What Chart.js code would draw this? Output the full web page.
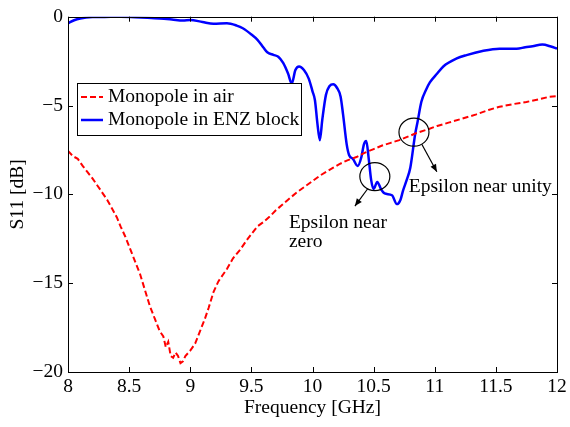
<!DOCTYPE html>
<html>
<head>
<meta charset="utf-8">
<script src="https://cdn.jsdelivr.net/npm/chart.js@4.4.0/dist/chart.umd.min.js"></script>
<style>
  html, body { margin: 0; padding: 0; background: #fff; }
  #wrap { width: 570px; height: 427px; }
</style>
</head>
<body>
<div id="wrap"><canvas id="myChart" width="570" height="427"></canvas></div>
<script>
// S11 (GHz, dB)
var airFreq = [8.00, 8.04, 8.08, 8.12, 8.16, 8.20, 8.24, 8.28, 8.32, 8.36, 8.40, 8.43, 8.47, 8.51, 8.55, 8.59,
    8.63, 8.67, 8.71, 8.75, 8.78, 8.80, 8.82, 8.84, 8.86, 8.88, 8.90, 8.92, 8.94, 8.96, 9.00, 9.04, 9.08, 9.12,
    9.15, 9.19, 9.23, 9.27, 9.30, 9.35, 9.41, 9.46, 9.51, 9.55, 9.60, 9.65, 9.70, 9.75, 9.80, 9.87, 9.93, 10.00,
    10.06, 10.12, 10.17, 10.22, 10.28, 10.36, 10.43, 10.50, 10.57, 10.64, 10.71, 10.78, 10.85, 10.94, 11.02,
    11.12, 11.22, 11.34, 11.44, 11.53, 11.64, 11.75, 11.87, 11.94, 12.00];
var airS11 = [-7.55, -7.85, -8.0, -8.4, -8.75, -9.1, -9.5, -9.9, -10.3, -10.8, -11.3, -11.8, -12.4, -13.1, -13.8, -14.5,
    -15.4, -16.3, -17.0, -17.7, -18.0, -18.6, -18.3, -19.1, -19.2, -18.9, -19.1, -19.5, -19.4, -19.1, -18.8, -18.4, -17.7, -17.0,
    -16.4, -15.5, -14.9, -14.5, -14.2, -13.6, -13.1, -12.6, -12.15, -11.8, -11.55, -11.25, -10.9, -10.6, -10.3, -9.9, -9.6, -9.25,
    -8.95, -8.7, -8.5, -8.3, -8.1, -7.9, -7.65, -7.45, -7.25, -7.1, -6.95, -6.75, -6.55, -6.35, -6.15,
    -5.95, -5.75, -5.5, -5.25, -5.07, -4.92, -4.8, -4.62, -4.5, -4.47];

var enzFreq = [8.00, 8.05, 8.10, 8.20, 8.30, 8.43, 8.55, 8.65, 8.75, 8.85, 8.94, 9.00, 9.10, 9.19, 9.30, 9.38,
    9.43, 9.50, 9.55, 9.60, 9.63, 9.68, 9.72, 9.76, 9.80, 9.83, 9.86, 9.89, 9.93, 9.97, 10.00, 10.02, 10.04,
    10.06, 10.08, 10.11, 10.14, 10.17, 10.20, 10.23, 10.25, 10.28, 10.30, 10.33, 10.37, 10.40, 10.42, 10.44,
    10.46, 10.48, 10.50, 10.53, 10.56, 10.59, 10.65, 10.69, 10.72, 10.74, 10.77, 10.80, 10.84, 10.86, 10.89,
    10.93, 10.96, 11.02, 11.07, 11.18, 11.26, 11.39, 11.53, 11.60, 11.67, 11.74, 11.80, 11.88, 11.95, 12.00];
var enzS11 = [-0.37, -0.2, -0.1, -0.02, -0.01, 0, -0.03, -0.06, -0.1, -0.16, -0.22, -0.18, -0.3, -0.4, -0.37, -0.5,
    -0.65, -1.0, -1.3, -1.75, -2.0, -2.15, -2.25, -2.6, -3.2, -3.77, -3.0, -2.8, -3.0, -3.5, -4.2, -4.7, -6.0,
    -6.95, -5.8, -4.4, -3.9, -3.8, -4.0, -4.5, -5.5, -7.2, -7.8, -8.0, -8.4, -7.9, -7.2, -7.0,
    -8.0, -9.2, -9.7, -9.3, -9.7, -9.95, -10.05, -10.55, -10.3, -9.8, -9.2, -8.5, -6.6, -5.9, -4.8,
    -4.1, -3.7, -3.2, -2.8, -2.35, -2.16, -1.93, -1.8, -1.8, -1.8, -1.72, -1.66, -1.57, -1.68, -1.8];

var xTicks = [8, 8.5, 9, 9.5, 10, 10.5, 11, 11.5, 12];
var yTicks = [0, -5, -10, -15, -20];

function toPoints(xs, ys) {
    return xs.map(function (x, i) { return { x: x, y: ys[i] }; });
}

var serif = "'Liberation Serif', 'Times New Roman', serif";
var fontSize = 19.5;

// callouts, anchored in data units
var circles = [
    { x: 10.51, y: -9.0, rx: 15, ry: 14 },
    { x: 10.83, y: -6.5, rx: 15, ry: 14 }
];
var arrows = [
    { x1: 10.453, y1: -9.67, x2: 10.347, y2: -10.66 },
    { x1: 10.894, y1: -7.18, x2: 11.017, y2: -8.73 }
];
var notes = [
    { x: 9.807, y: -11.6, text: 'Epsilon near' },
    { x: 9.807, y: -12.7, text: 'zero' },
    { x: 10.788, y: -9.56, text: 'Epsilon near unity' }
];

var framePlugin = {
    id: 'frame',
    afterDatasetsDraw: function (chart) {
        var c = chart.ctx, a = chart.chartArea;
        var xs = chart.scales.x, ys = chart.scales.y;
        c.save();
        c.strokeStyle = '#000';
        c.lineWidth = 1;
        c.strokeRect(Math.round(a.left) + 0.5, Math.round(a.top) + 0.5, Math.round(a.right - a.left), Math.round(a.bottom - a.top));
        c.beginPath();
        xTicks.forEach(function (v) {
            var px = Math.round(xs.getPixelForValue(v)) + 0.5;
            c.moveTo(px, a.bottom); c.lineTo(px, a.bottom - 5);
            c.moveTo(px, a.top); c.lineTo(px, a.top + 5);
        });
        yTicks.forEach(function (v) {
            var py = Math.round(ys.getPixelForValue(v)) + 0.5;
            c.moveTo(a.left, py); c.lineTo(a.left + 5, py);
            c.moveTo(a.right, py); c.lineTo(a.right - 5, py);
        });
        c.stroke();

        // circles and arrows
        c.lineWidth = 1.2;
        circles.forEach(function (o) {
            c.beginPath();
            c.ellipse(xs.getPixelForValue(o.x), ys.getPixelForValue(o.y), o.rx, o.ry, 0, 0, Math.PI * 2);
            c.stroke();
        });
        arrows.forEach(function (o) {
            var x1 = xs.getPixelForValue(o.x1), y1 = ys.getPixelForValue(o.y1);
            var x2 = xs.getPixelForValue(o.x2), y2 = ys.getPixelForValue(o.y2);
            var ang = Math.atan2(y2 - y1, x2 - x1);
            c.beginPath(); c.moveTo(x1, y1); c.lineTo(x2, y2); c.stroke();
            c.beginPath();
            c.moveTo(x2, y2);
            c.lineTo(x2 - 8 * Math.cos(ang - 0.4), y2 - 8 * Math.sin(ang - 0.4));
            c.lineTo(x2 - 8 * Math.cos(ang + 0.4), y2 - 8 * Math.sin(ang + 0.4));
            c.closePath();
            c.fillStyle = '#000';
            c.fill();
        });
        c.font = fontSize + 'px ' + serif;
        c.fillStyle = '#000';
        c.textBaseline = 'middle';
        c.textAlign = 'left';
        notes.forEach(function (o) {
            c.fillText(o.text, xs.getPixelForValue(o.x), ys.getPixelForValue(o.y));
        });

        // legend box, top left
        var lx = 77, ly = 83, lw = 224, lh = 52;
        c.fillStyle = '#fff';
        c.fillRect(lx, ly, lw, lh);
        c.strokeStyle = '#000';
        c.lineWidth = 1;
        c.strokeRect(lx + 0.5, ly + 0.5, lw, lh);
        chart.data.datasets.forEach(function (ds, i) {
            var yy = ly + 14 + i * 23;
            c.beginPath();
            c.strokeStyle = ds.borderColor;
            c.lineWidth = ds.borderWidth;
            c.setLineDash(ds.borderDash || []);
            c.moveTo(lx + 4, yy); c.lineTo(lx + 26, yy);
            c.stroke();
            c.setLineDash([]);
            c.fillStyle = '#000';
            c.fillText(ds.label, lx + 31, yy);
        });
        c.restore();
    }
};

var ctx = document.getElementById('myChart').getContext('2d');
var myChart = new Chart(ctx, {
    type: 'line',
    data: {
        datasets: [{
            label: 'Monopole in air',
            data: toPoints(airFreq, airS11),
            borderColor: '#ff0000',
            borderWidth: 2,
            borderDash: [6, 3],
            pointRadius: 0,
            tension: 0
        }, {
            label: 'Monopole in ENZ block',
            data: toPoints(enzFreq, enzS11),
            borderColor: '#0000ff',
            borderWidth: 2.5,
            pointRadius: 0,
            tension: 0.3,
            cubicInterpolationMode: 'monotone'
        }]
    },
    options: {
        responsive: false,
        animation: false,
        events: [],
        layout: { padding: { top: 10, right: 13, left: 0, bottom: 0 } },
        plugins: { legend: { display: false }, tooltip: { enabled: false } },
        scales: {
            x: {
                type: 'linear',
                min: 8,
                max: 12,
                afterBuildTicks: function (s) { s.ticks = xTicks.map(function (v) { return { value: v }; }); },
                afterFit: function (s) { s.height = 55; },
                grid: { display: false, drawTicks: false },
                border: { display: false },
                ticks: {
                    color: '#000', padding: 3, maxRotation: 0, font: { family: serif, size: fontSize },
                    callback: function (v) { return String(v); }
                },
                title: { display: true, text: 'Frequency [GHz]', color: '#000', padding: { top: 0, bottom: 7 }, font: { family: serif, size: fontSize } }
            },
            y: {
                type: 'linear',
                min: -20,
                max: 0,
                afterBuildTicks: function (s) { s.ticks = yTicks.map(function (v) { return { value: v }; }); },
                afterFit: function (s) { s.width = 68; },
                grid: { display: false, drawTicks: false },
                border: { display: false },
                ticks: {
                    color: '#000', padding: 5, font: { family: serif, size: fontSize },
                    callback: function (v) { return String(v).replace('-', '\u2212'); }
                },
                title: { display: true, text: 'S11 [dB]', color: '#000', padding: { top: 6, bottom: 0 }, font: { family: serif, size: fontSize } }
            }
        }
    },
    plugins: [framePlugin]
});
</script>
</body>
</html>
